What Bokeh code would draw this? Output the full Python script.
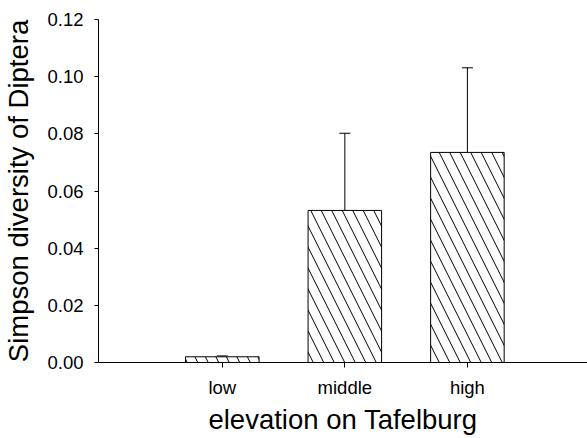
from bokeh.plotting import figure
from bokeh.models import Range1d, FixedTicker, Whisker, TeeHead, ColumnDataSource
from bokeh.embed import file_html
from bokeh.resources import INLINE

categories = ["low", "middle", "high"]
positions = [1, 2, 3]
values = [0.0020, 0.0532, 0.0735]
errors = [0.0003, 0.0270, 0.0296]
y_ticks = [0.00, 0.02, 0.04, 0.06, 0.08, 0.10, 0.12]
y_labels = ["0.00", "0.02", "0.04", "0.06", "0.08", "0.10", "0.12"]

FONT = "Liberation Sans"

src = ColumnDataSource(dict(
    x=positions, top=values,
    upper=[v + e for v, e in zip(values, errors)],
))

p = figure(width=587, height=438, output_backend="svg", toolbar_location=None,
           x_range=Range1d(-0.01, 3.98), y_range=Range1d(0, 0.12),
           min_border_left=98, min_border_right=0, min_border_top=19, min_border_bottom=76)
p.outline_line_color = None
p.grid.visible = False
p.background_fill_color = "white"
p.border_fill_color = "white"

p.vbar(x="x", top="top", bottom=0, width=0.6, source=src,
       fill_color="white", line_color="black", line_width=1,
       hatch_pattern="\\", hatch_color="black", hatch_scale=21, hatch_weight=1)

w = Whisker(base="x", lower="top", upper="upper", source=src,
            line_color="black", line_width=1,
            upper_head=TeeHead(size=11, line_color="black", line_width=1),
            lower_head=None)
p.add_layout(w)

xa = p.xaxis[0]
xa.ticker = FixedTicker(ticks=positions)
xa.major_label_overrides = {pos: c for pos, c in zip(positions, categories)}
xa.minor_tick_line_color = None
xa.major_tick_out = 5
xa.major_tick_in = 0
xa.major_label_standoff = 9
xa.axis_label = "elevation on Tafelburg"
xa.axis_label_standoff = 3

ya = p.yaxis[0]
ya.ticker = FixedTicker(ticks=y_ticks)
ya.major_label_overrides = {t: l for t, l in zip(y_ticks, y_labels)}
ya.minor_tick_line_color = None
ya.major_tick_out = 4
ya.major_tick_in = 0
ya.major_label_standoff = 11
ya.axis_label = "Simpson diversity of Diptera"
ya.axis_label_standoff = 10

for ax in (xa, ya):
    ax.axis_line_color = "black"
    ax.axis_line_width = 1
    ax.major_tick_line_color = "black"
    ax.major_label_text_font = FONT
    ax.major_label_text_font_size = "18.5px"
    ax.major_label_text_color = "black"
    ax.axis_label_text_font = FONT
    ax.axis_label_text_font_size = "27.5px"
    ax.axis_label_text_font_style = "normal"
    ax.axis_label_text_color = "black"

open("out.html", "w").write(file_html(p, INLINE))
